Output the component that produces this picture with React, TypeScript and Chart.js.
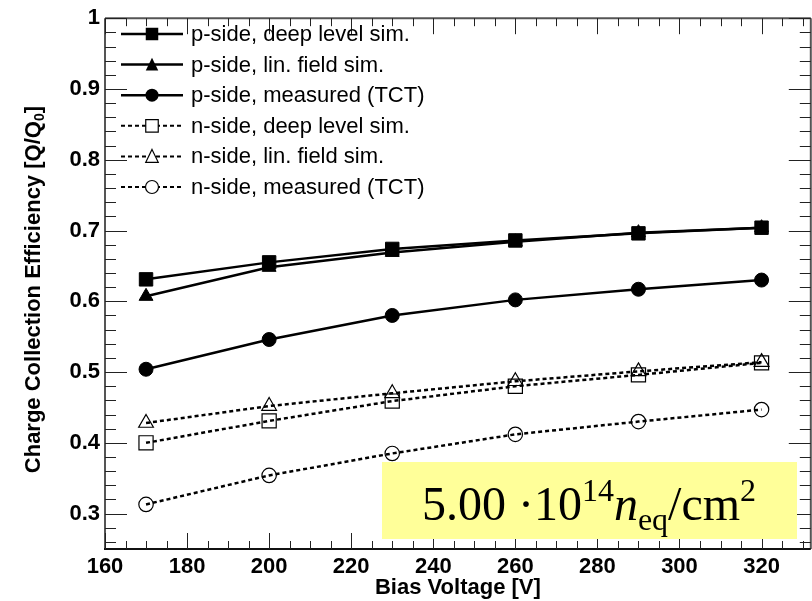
import { useEffect, useRef } from 'react';
import { Chart, registerables } from 'chart.js';

Chart.register(...registerables);

const voltages = [170, 200, 230, 260, 290, 320];
const pDeep = [0.631, 0.655, 0.674, 0.686, 0.696, 0.704];
const pLin = [0.607, 0.648, 0.669, 0.684, 0.697, 0.704];
const pMeas = [0.504, 0.546, 0.580, 0.602, 0.617, 0.630];
const nDeep = [0.400, 0.431, 0.459, 0.480, 0.496, 0.513];
const nLin = [0.428, 0.452, 0.470, 0.487, 0.501, 0.514];
const nMeas = [0.313, 0.354, 0.385, 0.412, 0.430, 0.447];

const seriesLabels = [
  'p-side, deep level sim.',
  'p-side, lin. field sim.',
  'p-side, measured (TCT)',
  'n-side, deep level sim.',
  'n-side, lin. field sim.',
  'n-side, measured (TCT)',
];

const xTickValues = [160, 180, 200, 220, 240, 260, 280, 300, 320];
const yTickValues = [0.3, 0.4, 0.5, 0.6, 0.7, 0.8, 0.9, 1.0];

const xTitle = 'Bias Voltage [V]';
const yTitleMain = 'Charge Collection Efficiency [Q/Q';
const yTitleSub = '0';
const yTitleEnd = ']';

const SANS = '"Liberation Sans", Arial, sans-serif';
const SERIF = '"Liberation Serif", "Times New Roman", serif';

type Marker = 'rect' | 'triangle' | 'circle';

const styles: { marker: Marker; filled: boolean; dashed: boolean; radius: number }[] = [
  { marker: 'rect', filled: true, dashed: false, radius: 9.5 },
  { marker: 'triangle', filled: true, dashed: false, radius: 8 },
  { marker: 'circle', filled: true, dashed: false, radius: 7 },
  { marker: 'rect', filled: false, dashed: true, radius: 10 },
  { marker: 'triangle', filled: false, dashed: true, radius: 8.5 },
  { marker: 'circle', filled: false, dashed: true, radius: 7.2 },
];

const seriesValues = [pDeep, pLin, pMeas, nDeep, nLin, nMeas];

function drawMarker(ctx: CanvasRenderingContext2D, m: Marker, x: number, y: number, size: number, filled: boolean) {
  ctx.beginPath();
  if (m === 'rect') {
    ctx.rect(x - size / 2, y - size / 2, size, size);
  } else if (m === 'triangle') {
    const h = size * 0.95;
    ctx.moveTo(x, y - h / 2 - 1);
    ctx.lineTo(x + size / 2, y + h / 2);
    ctx.lineTo(x - size / 2, y + h / 2);
    ctx.closePath();
  } else {
    ctx.arc(x, y, size / 2, 0, Math.PI * 2);
  }
  if (filled) {
    ctx.fillStyle = '#000';
    ctx.fill();
  } else {
    ctx.fillStyle = '#fff';
    ctx.fill();
    ctx.lineWidth = 1.2;
    ctx.strokeStyle = '#000';
    ctx.stroke();
  }
}

const decoPlugin = {
  id: 'deco',
  afterDatasetsDraw(chart: any) {
    const ctx: CanvasRenderingContext2D = chart.ctx;
    const a = chart.chartArea;
    const xs = chart.scales.x;
    const ys = chart.scales.y;
    ctx.save();

    // frame
    ctx.strokeStyle = '#555';
    ctx.lineWidth = 2;
    ctx.beginPath();
    ctx.moveTo(a.left, a.top);
    ctx.lineTo(a.right, a.top);
    ctx.moveTo(a.left, a.top);
    ctx.lineTo(a.left, a.bottom);
    ctx.moveTo(a.right, a.top);
    ctx.lineTo(a.right, a.bottom);
    ctx.stroke();
    ctx.strokeStyle = '#111';
    ctx.beginPath();
    ctx.moveTo(a.left - 1, a.bottom);
    ctx.lineTo(a.right, a.bottom);
    ctx.stroke();

    // inner ticks
    ctx.strokeStyle = '#222';
    ctx.lineWidth = 1;
    ctx.beginPath();
    for (let v = 160; v <= 332; v += 5) {
      const px = Math.round(xs.getPixelForValue(v)) + 0.5;
      const len = v % 20 === 0 ? 16 : 8;
      ctx.moveTo(px, a.bottom);
      ctx.lineTo(px, a.bottom - len);
      ctx.moveTo(px, a.top);
      ctx.lineTo(px, a.top + len);
    }
    for (let k = 26; k <= 100; k += 2) {
      const py = Math.round(ys.getPixelForValue(k / 100)) + 0.5;
      const len = k % 10 === 0 ? 22 : 11;
      ctx.moveTo(a.left, py);
      ctx.lineTo(a.left + len, py);
      ctx.moveTo(a.right, py);
      ctx.lineTo(a.right - len, py);
    }
    ctx.stroke();

    // legend
    const lx0 = 121, lx1 = 183, mx = 152, tx = 191;
    for (let i = 0; i < seriesLabels.length; i++) {
      const st = styles[i];
      const y = 34 + i * 30.6;
      ctx.strokeStyle = '#000';
      ctx.lineWidth = st.dashed ? 2 : 2.5;
      ctx.setLineDash(st.dashed ? [4, 3] : []);
      ctx.beginPath();
      ctx.moveTo(lx0, y);
      ctx.lineTo(lx1, y);
      ctx.stroke();
      ctx.setLineDash([]);
      drawMarker(ctx, st.marker, mx, y, st.marker === 'circle' ? 13 : 12.5, st.filled);
      ctx.fillStyle = '#000';
      ctx.font = '22px ' + SANS;
      ctx.textAlign = 'left';
      ctx.textBaseline = 'middle';
      ctx.fillText(seriesLabels[i], tx, y + 1);
    }

    // annotation box
    ctx.fillStyle = '#ffff99';
    ctx.fillRect(382, 462, 415, 77);
    const parts = [
      { t: '5.00 \u00b710', f: '48px ' + SERIF, dy: 0 },
      { t: '14', f: '32px ' + SERIF, dy: -19 },
      { t: 'n', f: 'italic 48px ' + SERIF, dy: 0 },
      { t: 'eq', f: '32px ' + SERIF, dy: 10 },
      { t: '/cm', f: '48px ' + SERIF, dy: 0 },
      { t: '2', f: '32px ' + SERIF, dy: -19 },
    ];
    let total = 0;
    for (const p of parts) {
      ctx.font = p.f;
      total += ctx.measureText(p.t).width;
    }
    let x = 589 - total / 2;
    ctx.fillStyle = '#000';
    ctx.textAlign = 'left';
    ctx.textBaseline = 'alphabetic';
    for (const p of parts) {
      ctx.font = p.f;
      ctx.fillText(p.t, x, 520 + p.dy);
      x += ctx.measureText(p.t).width;
    }

    ctx.restore();
  },
  afterDraw(chart: any) {
    const ctx: CanvasRenderingContext2D = chart.ctx;
    const a = chart.chartArea;
    ctx.save();
    ctx.fillStyle = '#000';
    ctx.font = 'bold 22px ' + SANS;
    ctx.textAlign = 'center';
    ctx.textBaseline = 'middle';
    ctx.fillText(xTitle, (a.left + a.right) / 2, 588);

    // y title with subscript
    const mainF = 'bold 22px ' + SANS;
    const subF = 'bold 14px ' + SANS;
    ctx.font = mainF;
    const w1 = ctx.measureText(yTitleMain).width;
    const w3 = ctx.measureText(yTitleEnd).width;
    ctx.font = subF;
    const w2 = ctx.measureText(yTitleSub).width;
    const tot = w1 + w2 + w3;
    ctx.translate(32, (a.top + a.bottom) / 2 + 6);
    ctx.rotate(-Math.PI / 2);
    ctx.textAlign = 'left';
    ctx.textBaseline = 'alphabetic';
    let x = -tot / 2;
    const base = 8;
    ctx.font = mainF;
    ctx.fillText(yTitleMain, x, base);
    x += w1;
    ctx.font = subF;
    ctx.fillText(yTitleSub, x, base + 4);
    x += w2;
    ctx.font = mainF;
    ctx.fillText(yTitleEnd, x, base);
    ctx.restore();
  },
};

export default function App() {
  const ref = useRef<HTMLCanvasElement | null>(null);
  useEffect(() => {
    document.body.style.margin = '0';
    const canvas = ref.current!;
    const datasets = seriesValues.map((vals, i) => {
      const st = styles[i];
      return {
        label: seriesLabels[i],
        data: voltages.map((v, j) => ({ x: v, y: vals[j] })),
        borderColor: '#000',
        backgroundColor: st.filled ? '#000' : 'rgba(0,0,0,0)',
        borderWidth: 2.5,
        borderDash: st.dashed ? [4, 3] : [],
        pointStyle: st.marker,
        pointRadius: st.radius,
        pointBorderWidth: st.filled ? 1 : 1.2,
        pointBorderColor: '#000',
        pointBackgroundColor: st.filled ? '#000' : 'rgba(0,0,0,0)',
        tension: 0,
        fill: false,
      };
    });
    const chart = new Chart(canvas, {
      type: 'line',
      data: { datasets },
      options: {
        responsive: false,
        animation: false,
        devicePixelRatio: 1,
        layout: { padding: { top: 17, right: 2, left: 0, bottom: 0 } },
        plugins: { legend: { display: false }, tooltip: { enabled: false } },
        scales: {
          x: {
            type: 'linear',
            min: 160,
            max: 332,
            afterBuildTicks: (s: any) => {
              s.ticks = xTickValues.map((v) => ({ value: v }));
            },
            afterFit: (s: any) => {
              s.height = 52;
            },
            grid: { display: false, drawTicks: false },
            border: { display: false },
            ticks: {
              color: '#000',
              font: { family: SANS, size: 22, weight: 'bold' },
              padding: 5,
              maxRotation: 0,
              callback: (v: any) => String(v),
            },
          },
          y: {
            type: 'linear',
            min: 0.25,
            max: 1.0,
            afterBuildTicks: (s: any) => {
              s.ticks = yTickValues.map((v) => ({ value: v }));
            },
            afterFit: (s: any) => {
              s.width = 105;
            },
            grid: { display: false, drawTicks: false },
            border: { display: false },
            ticks: {
              color: '#000',
              font: { family: SANS, size: 22, weight: 'bold' },
              padding: 5,
              callback: (v: any) => (Math.abs(v - 1) < 1e-9 ? '1' : Number(v).toFixed(1)),
            },
          },
        },
      } as any,
      plugins: [decoPlugin],
    });
    return () => chart.destroy();
  }, []);
  return (
    <div style={{ position: 'absolute', left: 0, top: 0, width: 812, height: 601, overflow: 'hidden' }}>
      <canvas ref={ref} width={822} height={601} style={{ width: 822, height: 601, display: 'block' }} />
    </div>
  );
}
